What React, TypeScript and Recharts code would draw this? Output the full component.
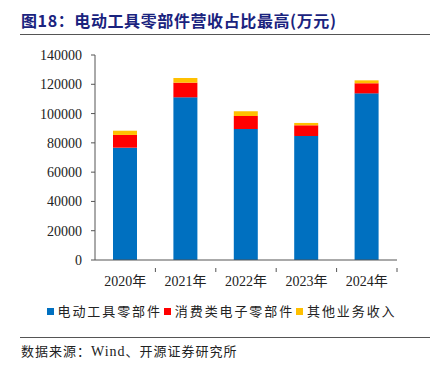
import { Bar, BarChart, XAxis, YAxis } from 'recharts';

const BLUE = '#0070c0';
const RED = '#ff0000';
const YELLOW = '#ffc000';
const SERIF = '"Liberation Serif", "Noto Sans CJK SC", serif';
const CJK = '"Noto Sans CJK SC", sans-serif';

const years = ['2020年', '2021年', '2022年', '2023年', '2024年'];
const powerTools = [76700, 111100, 89500, 84700, 113800];
const consumerElec = [8700, 10000, 8900, 7300, 6900];
const otherBiz = [2900, 3200, 3200, 1600, 2000];
const yTicks = [0, 20000, 40000, 60000, 80000, 100000, 120000, 140000];

const series = [
  { key: 'powerTools', name: '电动工具零部件', color: BLUE },
  { key: 'consumerElec', name: '消费类电子零部件', color: RED },
  { key: 'otherBiz', name: '其他业务收入', color: YELLOW },
];

const data = years.map((y, i) => ({
  year: y,
  powerTools: powerTools[i],
  consumerElec: consumerElec[i],
  otherBiz: otherBiz[i],
}));

function XTick(props: any) {
  const { x, y, payload } = props;
  const half = payload?.offset ?? 30;
  return (
    <g>
      <line x1={x + half} x2={x + half} y1={y} y2={y + 4} stroke="#555" />
      <text
        x={x}
        y={y + 18}
        textAnchor="middle"
        fontSize={14}
        style={{ fontFamily: SERIF }}
        fill="#222"
      >
        {payload.value}
      </text>
    </g>
  );
}

function YTick(props: any) {
  const { x, y, payload } = props;
  return (
    <text
      x={x}
      y={y + 5}
      textAnchor="end"
      fontSize={14}
      style={{ fontFamily: SERIF }}
      fill="#222"
    >
      {payload.value}
    </text>
  );
}

export default function App() {
  return (
    <div
      style={{
        position: 'absolute',
        left: 0,
        top: 0,
        width: 439,
        height: 367,
        background: '#fff',
      }}
    >
      <div
        style={{
          position: 'absolute',
          left: 21,
          top: 9,
          fontFamily: CJK,
          fontWeight: 700,
          fontSize: 16,
          letterSpacing: 0.6,
          color: '#1a237e',
          whiteSpace: 'nowrap',
          lineHeight: '22px',
        }}
      >
        图18：电动工具零部件营收占比最高(万元)
      </div>
      <div
        style={{
          position: 'absolute',
          left: 20,
          top: 34,
          width: 410,
          height: 1,
          background: '#555',
        }}
      />
      <BarChart
        width={439}
        height={290}
        data={data}
        margin={{ top: 55, right: 42, left: 0, bottom: 0 }}
        barSize={24}
      >
        <XAxis
          dataKey="year"
          height={30}
          axisLine={{ stroke: '#555' }}
          tickLine={false}
          tick={<XTick />}
          interval={0}
        />
        <YAxis
          width={95}
          domain={[0, 140000]}
          ticks={yTicks}
          interval={0}
          axisLine={{ stroke: '#555' }}
          tickLine={{ stroke: '#555' }}
          tickSize={4}
          tickMargin={9}
          tick={<YTick />}
        />
        {series.map((s) => (
          <Bar
            key={s.key}
            dataKey={s.key}
            name={s.name}
            stackId="a"
            fill={s.color}
            isAnimationActive={false}
          />
        ))}
      </BarChart>
      <div
        style={{
          position: 'absolute',
          left: 0,
          top: 301,
          width: 439,
          display: 'flex',
          justifyContent: 'center',
          alignItems: 'center',
          fontFamily: CJK,
          fontSize: 13,
          letterSpacing: 1.9,
          color: '#222',
          lineHeight: '20px',
          paddingLeft: 6,
          boxSizing: 'border-box',
        }}
      >
        {series.map((s) => (
          <span key={s.key} style={{ display: 'flex', alignItems: 'center', marginRight: 2 }}>
            <span
              style={{
                display: 'inline-block',
                width: 7,
                height: 7,
                background: s.color,
                marginRight: 4,
              }}
            />
            {s.name}
          </span>
        ))}
      </div>
      <div
        style={{
          position: 'absolute',
          left: 20,
          top: 337,
          width: 410,
          height: 1,
          background: '#555',
        }}
      />
      <div
        style={{
          position: 'absolute',
          left: 21,
          top: 342,
          fontFamily: CJK,
          fontSize: 13,
          letterSpacing: 1,
          color: '#222',
          whiteSpace: 'nowrap',
          lineHeight: '18px',
        }}
      >
        数据来源：<span style={{ fontFamily: SERIF, fontSize: 14 }}>Wind</span>、开源证券研究所
      </div>
    </div>
  );
}
